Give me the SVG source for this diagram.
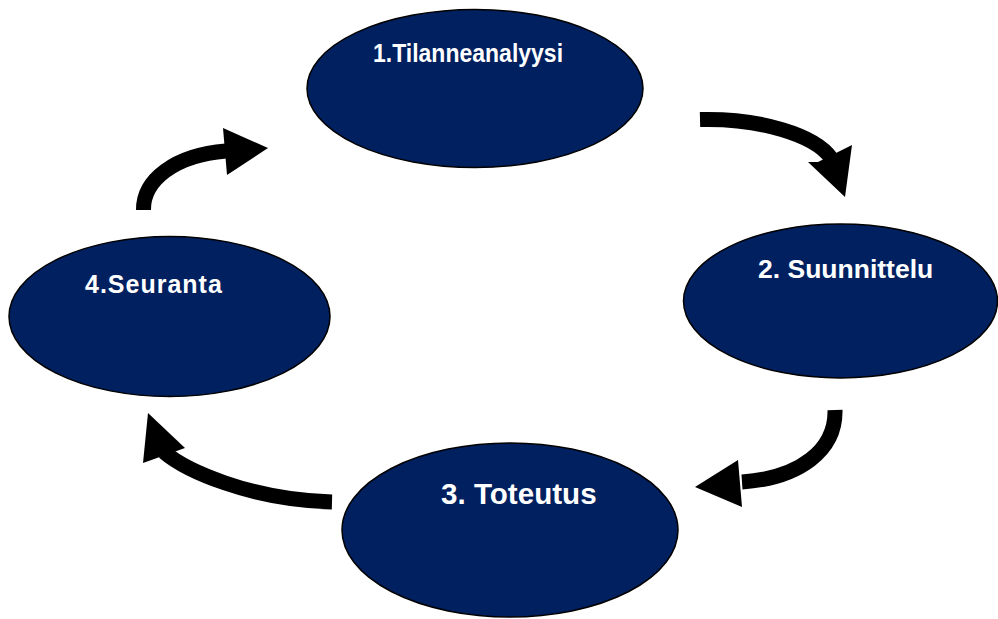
<svg xmlns="http://www.w3.org/2000/svg" width="998" height="619" viewBox="0 0 998 619">
<style>
.node{fill:#002060;stroke:#000;stroke-width:1.5}
.lbl{fill:#fff;font-family:"Liberation Sans",Arial,sans-serif;font-weight:bold}
.body{fill:none;stroke:#000;stroke-width:15}
.head{fill:#000}
</style>
<rect width="998" height="619" fill="#fff"/>
<g id="connectors">
<path class="body" d="M700,119.5 C760,118 815,135 831,158"/>
<polygon class="head" points="808,162 818,162 852,145 845,197"/>
<path class="body" d="M835,410 C836,450 800,478 742,482"/>
<polygon class="head" points="738,460 742,507 695,487"/>
<path class="body" d="M332,502 C250,500 185,470 164,452"/>
<polygon class="head" points="185,448 143,463 148,413"/>
<path class="body" d="M143.5,210 C143,180 175,155 226,151"/>
<polygon class="head" points="223,128 227,175 268,148"/>
</g>
<g id="node1">
<ellipse class="node" cx="475" cy="88.5" rx="168" ry="79"/>
<text class="lbl" transform="translate(373,62) scale(0.92,1)" font-size="25">1.Tilanneanalyysi</text>
</g>
<g id="node2">
<ellipse class="node" cx="840.5" cy="301" rx="157" ry="77"/>
<text class="lbl" x="758" y="278" font-size="26.5">2. Suunnittelu</text>
</g>
<g id="node3">
<ellipse class="node" cx="510" cy="530" rx="168" ry="87"/>
<text class="lbl" x="441" y="504" font-size="29.6">3. Toteutus</text>
</g>
<g id="node4">
<ellipse class="node" cx="169.5" cy="316.5" rx="160.5" ry="80"/>
<text class="lbl" x="85" y="293" font-size="25" letter-spacing="1">4.Seuranta</text>
</g>
</svg>
